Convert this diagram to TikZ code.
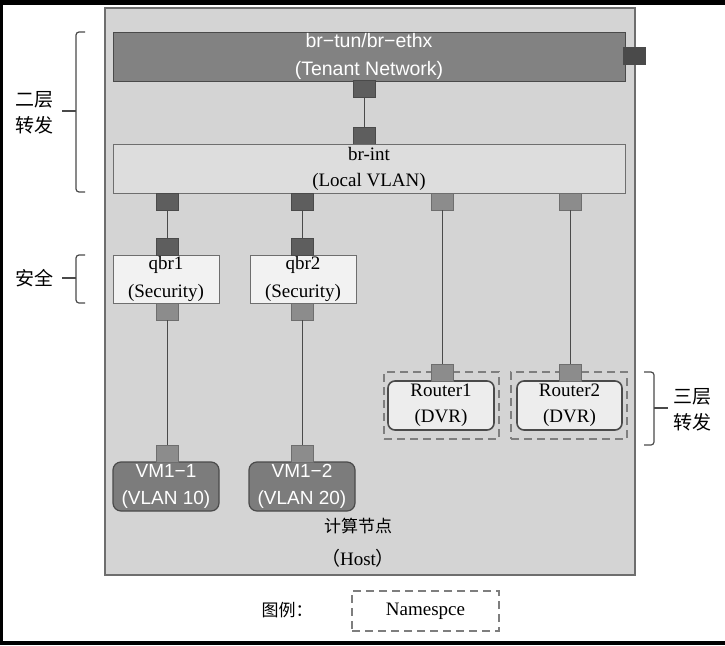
\documentclass[tikz,border=0pt]{standalone}
\usepackage{fontspec}
\setmainfont{Liberation Serif}
\setsansfont{Liberation Sans}
\newfontfamily\cjk{Noto Sans CJK SC}
\usetikzlibrary{positioning, calc}
\usepackage{xcolor}
\definecolor{hostfill}{HTML}{D4D4D4}
\definecolor{hostline}{HTML}{6E6E6E}
\definecolor{tunfill}{HTML}{828282}
\definecolor{intfill}{HTML}{DDDDDD}
\definecolor{qbrfill}{HTML}{F2F2F2}
\definecolor{vmfill}{HTML}{7C7C7C}
\definecolor{dvrfill}{HTML}{EDEDED}
\definecolor{darkport}{HTML}{5E5E5E}
\definecolor{lightport}{HTML}{8C8C8C}
\definecolor{edge}{HTML}{4A4A4A}
\tikzset{
    hostbox/.style={rectangle, draw=hostline, line width=1.2pt, fill=hostfill, minimum width=530pt, minimum height=567pt, inner sep=0pt},
    tunbox/.style={rectangle, draw=edge, fill=tunfill, text=white, font=\sffamily\fontsize{19.5}{28}\selectfont, minimum width=512pt, minimum height=49pt, inner sep=0pt, align=center},
    intbox/.style={rectangle, draw=hostline, fill=intfill, font=\fontsize{19}{26}\selectfont, minimum width=512pt, minimum height=49pt, inner sep=0pt, align=center},
    qbrbox/.style={rectangle, draw=hostline, fill=qbrfill, font=\fontsize{19}{28}\selectfont, minimum width=106pt, minimum height=48pt, inner sep=0pt, align=center},
    vmbox/.style={rectangle, rounded corners=8pt, draw=edge, line width=1.2pt, fill=vmfill, text=white, font=\sffamily\fontsize{19}{27}\selectfont, minimum width=106pt, minimum height=49pt, inner sep=0pt, align=center},
    dvrbox/.style={rectangle, rounded corners=7pt, draw=edge, line width=1.6pt, fill=dvrfill, font=\fontsize{19}{26}\selectfont, minimum width=106pt, minimum height=49pt, inner sep=0pt, align=center},
    nsbox/.style={rectangle, draw=lightport!90!black, line width=1.5pt, dash pattern=on 8pt off 5pt, minimum width=116pt, minimum height=67pt, inner sep=0pt},
    portd/.style={rectangle, draw=edge, fill=darkport, minimum width=22pt, minimum height=17pt, inner sep=0pt},
    portl/.style={rectangle, draw=edge!80, fill=lightport, minimum width=22pt, minimum height=17pt, inner sep=0pt},
    wire/.style={draw=edge, line width=1pt},
    brace/.style={draw=edge, line width=1.2pt, rounded corners=3pt},
    side/.style={font=\cjk\fontsize{19}{26}\selectfont, align=center}
}
\begin{document}
\begin{tikzpicture}[x=1pt, y=-1pt]
    \useasboundingbox (0,0) rectangle (725,645);
    \fill[black] (0,0) rectangle (725,5);
    \fill[black] (0,641) rectangle (725,645);
    \fill[black] (0,0) rectangle (3,645);

    % compute node
    \node (host) [hostbox] at (370,291.5) {};
    \node (hostlbl) [font=\fontsize{19}{33}\selectfont, align=center] at (358,543) {{\cjk\fontsize{17}{33}\selectfont 计算节点}\\{\cjk （}Host{\cjk ）}};

    % bridges
    \node (brtun) [tunbox] at (369,56.5) {br−tun/br−ethx\\(Tenant Network)};
    \node (ext) [portd, fill=edge, minimum width=22pt] at (634,55.5) {};
    \node (tunp) [portd] at (364,89) {};
    \node (intp) [portd] at (364,135.5) {};
    \node (brint) [intbox] at (369,168.5) {br-int\\(Local VLAN)};
    \draw [wire] (tunp) -- (intp);

    \node (intp1) [portd] at (167,201.5) {};
    \node (intp2) [portd] at (302.5,201.5) {};
    \node (intp3) [portl] at (442,201.5) {};
    \node (intp4) [portl] at (570.5,201.5) {};

    % security bridges
    \node (qbr1) [qbrbox] at (166,279) {qbr1\\(Security)};
    \node (qbr2) [qbrbox] at (303,279) {qbr2\\(Security)};
    \node (qbrt1) [portd] at (167,246.5) {};
    \node (qbrt2) [portd] at (302.5,246.5) {};
    \node (qbrb1) [portl] at (167,311.5) {};
    \node (qbrb2) [portl] at (302.5,311.5) {};
    \draw [wire] (intp1) -- (qbrt1);
    \draw [wire] (intp2) -- (qbrt2);

    % virtual machines
    \node (vm1) [vmbox] at (166,486.5) {VM1−1\\(VLAN 10)};
    \node (vm2) [vmbox] at (302,486.5) {VM1−2\\(VLAN 20)};
    \node (vmp1) [portl] at (167,454) {};
    \node (vmp2) [portl] at (302.5,454) {};
    \draw [wire] (qbrb1) -- (vmp1);
    \draw [wire] (qbrb2) -- (vmp2);

    % routers
    \node (ns1) [nsbox, minimum width=115pt] at (441.5,405.5) {};
    \node (ns2) [nsbox] at (569,405.5) {};
    \node (dvr1) [dvrbox] at (441,405.5) {Router1\\(DVR)};
    \node (dvr2) [dvrbox, minimum width=105pt] at (569.5,405.5) {Router2\\(DVR)};
    \node (dvrp1) [portl] at (442,372.5) {};
    \node (dvrp2) [portl] at (570.5,372.5) {};
    \draw [wire] (intp3) -- (dvrp1);
    \draw [wire] (intp4) -- (dvrp2);

    % layer labels
    \draw [brace] (85,32) -- (76,32) -- (76,192) -- (85,192);
    \draw [brace] (76,111) -- (62,111);
    \node (l2) [side] at (34,113) {二层\\转发};
    \draw [brace] (85,255) -- (76,255) -- (76,303) -- (85,303);
    \draw [brace] (76,278) -- (62,278);
    \node (sec) [side] at (34,278) {安全};
    \draw [brace] (644,372) -- (654,372) -- (654,445) -- (644,445);
    \draw [brace] (654,408) -- (668,408);
    \node (l3) [side] at (692,410) {三层\\转发};

    % legend
    \node (legend) [font=\cjk\fontsize{17}{20}\selectfont] at (287,610) {图例：};
    \node (nsleg) [nsbox, minimum width=147pt, minimum height=40pt, font=\fontsize{19}{22}\selectfont] at (425.5,611) {Namespce};
\end{tikzpicture}
\end{document}
